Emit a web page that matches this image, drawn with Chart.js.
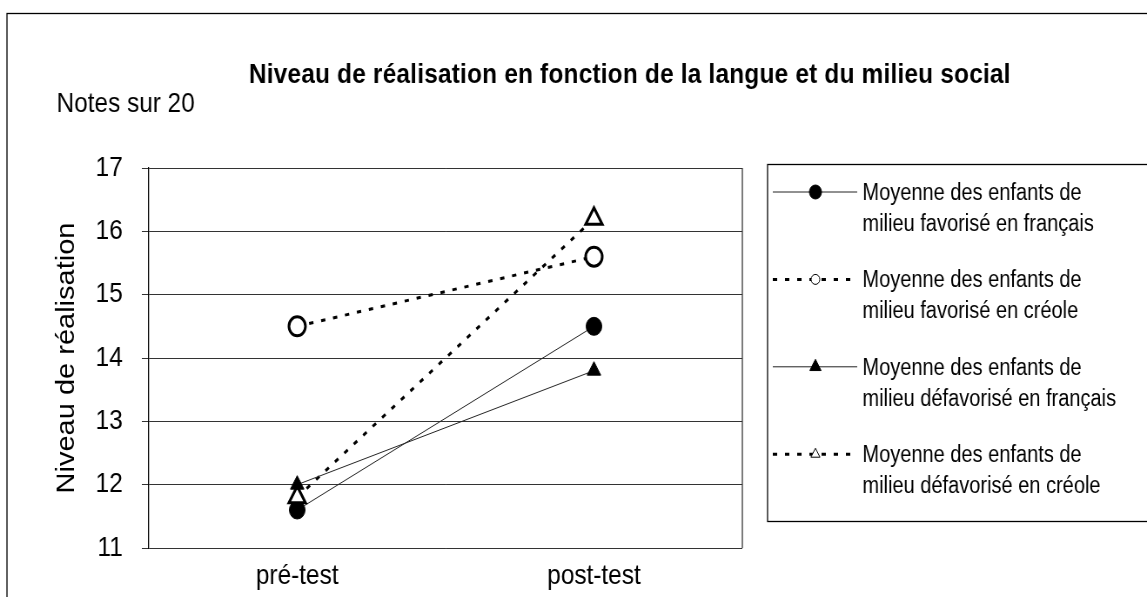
<!DOCTYPE html>
<html lang="fr">
<head>
<meta charset="utf-8">
<title>Niveau de réalisation</title>
<script src="https://cdn.jsdelivr.net/npm/chart.js@4.4.1/dist/chart.umd.min.js"></script>
<style>
  html,body{margin:0;padding:0;background:#fff;overflow:hidden}
</style>
</head>
<body>
<!-- the source picture is squeezed sideways: draw wide, show narrow -->
<canvas id="chart" width="1318" height="597" style="display:block;width:1147px;height:597px"></canvas>
<script>
// Data
const categories = ['pré-test', 'post-test'];
const favFrancais = [11.6, 14.5];
const favCreole = [14.5, 15.6];
const defavFrancais = [12.0, 13.8];
const defavCreole = [11.8, 16.2];
const seriesNames = [
  ['Moyenne des enfants de', 'milieu favorisé en français'],
  ['Moyenne des enfants de', 'milieu favorisé en créole'],
  ['Moyenne des enfants de', 'milieu défavorisé en français'],
  ['Moyenne des enfants de', 'milieu défavorisé en créole']
];
const yTicks = [11, 12, 13, 14, 15, 16, 17];
const chartTitle = 'Niveau de réalisation en fonction de la langue et du milieu social';
const unitLabel = 'Notes sur 20';
const yAxisTitle = 'Niveau de réalisation';

const FONT = "'Liberation Sans', Arial, sans-serif";
const GRID = '#333';
const DOTS = [5, 9];

function marker(ctx, style, x, y, r, fill, stroke){
  ctx.save();
  ctx.beginPath();
  if (style === 'circle') ctx.arc(x, y, r, 0, Math.PI*2);
  else { ctx.moveTo(x, y-r); ctx.lineTo(x+r*0.866, y+r/2); ctx.lineTo(x-r*0.866, y+r/2); ctx.closePath(); }
  ctx.fillStyle = fill; ctx.fill();
  ctx.lineWidth = 1; ctx.strokeStyle = stroke; ctx.stroke();
  ctx.restore();
}

// text squeezed or spread to a given width (the source title is tightly set)
function fitText(ctx, text, x, y, width){
  const w = ctx.measureText(text).width;
  if ('letterSpacing' in ctx) ctx.letterSpacing = ((width - w) / (text.length - 1)).toFixed(2) + 'px';
  ctx.fillText(text, x, y);
  if ('letterSpacing' in ctx) ctx.letterSpacing = '0px';
}

// frame, titles and the boxed legend on the right
const decor = {
  id: 'decor',
  afterDraw(chart){
    const ctx = chart.ctx, W = chart.width, H = chart.height, a = chart.chartArea;
    ctx.save();
    ctx.strokeStyle = '#000'; ctx.lineWidth = 1.3;
    ctx.strokeRect(8, 13.5, W+20, H+20);
    ctx.strokeStyle = GRID;
    ctx.beginPath(); ctx.moveTo(a.right, a.top); ctx.lineTo(a.right, a.bottom); ctx.stroke();

    ctx.fillStyle = '#000'; ctx.textBaseline = 'alphabetic';
    ctx.font = 'bold 28px ' + FONT; ctx.textAlign = 'left';
    fitText(ctx, chartTitle, 286, 83, 875);
    ctx.font = '28px ' + FONT;
    ctx.fillText(unitLabel, 65, 112);

    ctx.strokeStyle = '#000'; ctx.lineWidth = 1.3;
    ctx.strokeRect(882, 164.5, W, 521-164);
    chart.data.datasets.forEach((ds, i) => {
      const base = 200 + i*87.4;
      const ly = base - 8;
      ctx.save();
      ctx.strokeStyle = ds.borderColor; ctx.lineWidth = ds.borderWidth;
      ctx.setLineDash(ds.borderDash || []);
      ctx.beginPath(); ctx.moveTo(888, ly); ctx.lineTo(985, ly); ctx.stroke();
      ctx.restore();
      marker(ctx, ds.pointStyle, 937, ly, ds.legendRadius, ds.pointBackgroundColor, ds.pointBorderColor);
      ctx.font = '23px ' + FONT; ctx.fillStyle = '#000'; ctx.textAlign = 'left';
      seriesNames[i].forEach((t, k) => ctx.fillText(t, 991, base + k*31));
    });
    ctx.restore();
  }
};

new Chart(document.getElementById('chart'), {
  type: 'line',
  data: {
    labels: categories,
    datasets: [
      {label: seriesNames[0].join(' '), data: favFrancais, borderColor:'#222', borderWidth:1,
       pointStyle:'circle', pointRadius:9, pointBackgroundColor:'#000', pointBorderColor:'#000', legendRadius:7, order:3},
      {label: seriesNames[1].join(' '), data: favCreole, borderColor:'#000', borderWidth:3, borderDash:DOTS,
       pointStyle:'circle', pointRadius:9.5, pointBackgroundColor:'#fff', pointBorderColor:'#000', legendRadius:5, order:2},
      {label: seriesNames[2].join(' '), data: defavFrancais, borderColor:'#222', borderWidth:1,
       pointStyle:'triangle', pointRadius:9, pointBackgroundColor:'#000', pointBorderColor:'#000', legendRadius:7.5, order:0},
      {label: seriesNames[3].join(' '), data: defavCreole, borderColor:'#000', borderWidth:3, borderDash:DOTS,
       pointStyle:'triangle', pointRadius:11, pointBackgroundColor:'#fff', pointBorderColor:'#000', legendRadius:6, order:1}
    ]
  },
  options: {
    responsive:false, animation:false, devicePixelRatio:1,
    layout:{padding:{top:168, right:465, bottom:0, left:0}},
    plugins:{legend:{display:false}, title:{display:false}, tooltip:{enabled:false}},
    scales:{
      x:{
        type:'category', offset:true,
        grid:{display:false, drawTicks:false}, border:{display:false},
        ticks:{color:'#000', font:{family:FONT, size:28}, padding:11, maxRotation:0},
        afterFit(s){ s.height = 49; }
      },
      y:{
        min:yTicks[0], max:yTicks[yTicks.length-1],
        afterBuildTicks(s){ s.ticks = yTicks.map(v => ({value:v})); },
        ticks:{color:'#000', font:{family:FONT, size:28}, padding:22},
        grid:{color:GRID, lineWidth:1, tickLength:8},
        border:{display:true, color:'#000', width:1.3},
        title:{display:true, text:yAxisTitle, color:'#000', font:{family:FONT, size:29}, padding:{top:60, bottom:0}},
        afterFit(s){ s.width = 171; }
      }
    }
  },
  plugins:[decor]
});
</script>
</body>
</html>
